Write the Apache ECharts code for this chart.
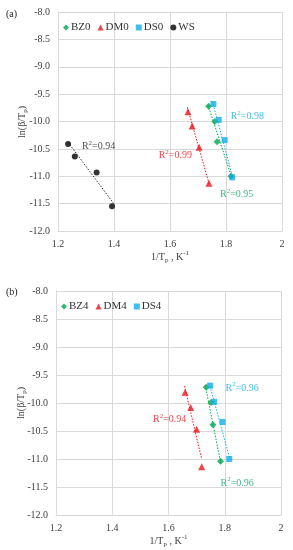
<!DOCTYPE html>
<html><head><meta charset="utf-8">
<script src="https://cdn.jsdelivr.net/npm/echarts@6/dist/echarts.min.js"></script>
<style>html,body{margin:0;padding:0;background:#fff}#c{width:293px;height:550px}</style>
</head><body><div id="c"></div>
<script>
// ---- data (panel a) ----
const BZ0 = [[1.738,-9.72],[1.760,-10.00],[1.768,-10.37],[1.818,-11.00]];
const DM0 = [[1.664,-9.82],[1.679,-10.08],[1.704,-10.47],[1.739,-11.13]];
const DS0 = [[1.755,-9.68],[1.774,-9.97],[1.795,-10.34],[1.822,-11.02]];
const WS  = [[1.236,-10.41],[1.260,-10.64],[1.338,-10.93],[1.393,-11.55]];
const BZ0_fit = [[1.736,-9.70],[1.822,-11.05]];
const DM0_fit = [[1.662,-9.74],[1.741,-11.16]];
const DS0_fit = [[1.752,-9.64],[1.825,-11.05]];
const WS_fit  = [[1.236,-10.38],[1.402,-11.52]];
const R2a = [
  {name:'DS0', value:[1.876,-9.91], text:'0.98'},
  {name:'DM0', value:[1.619,-10.62], text:'0.99'},
  {name:'BZ0', value:[1.838,-11.33], text:'0.95'},
  {name:'WS',  value:[1.345,-10.46], text:'0.94'}
];
// ---- data (panel b) ----
const BZ4 = [[1.734,-9.72],[1.751,-9.99],[1.758,-10.39],[1.785,-11.04]];
const DM4 = [[1.659,-9.81],[1.679,-10.08],[1.700,-10.47],[1.718,-11.14]];
const DS4 = [[1.748,-9.69],[1.762,-9.98],[1.792,-10.34],[1.816,-11.00]];
const BZ4_fit = [[1.731,-9.69],[1.786,-11.08]];
const DM4_fit = [[1.657,-9.70],[1.717,-10.98]];
const DS4_fit = [[1.745,-9.65],[1.818,-11.00]];
const R2b = [
  {name:'DS4', value:[1.862,-9.73], text:'0.96'},
  {name:'DM4', value:[1.604,-10.29], text:'0.94'},
  {name:'BZ4', value:[1.844,-11.43], text:'0.96'}
];
// axis ticks
const xTicks = {min:1.2, max:2.0, interval:0.2};
const yTicks = {min:-12.0, max:-8.0, interval:0.5};

const FONT = 'Liberation Serif';
const COL = {green:'#00a650', red:'#e8141c', blue:'#12aee8', black:'#000000'};
const LBLCOL = {green:'#14a86a', red:'#e8141c', blue:'#12aee8', black:'#222'};
const gridCol = '#d9d9d9';

function xAxis(gi){
  return {type:'value', gridIndex:gi, min:xTicks.min, max:xTicks.max, interval:xTicks.interval,
    axisLine:{show:true, lineStyle:{color:gridCol}}, axisTick:{show:false},
    splitLine:{show:true, lineStyle:{color:gridCol}},
    axisLabel:{color:'#404040', fontFamily:FONT, fontSize:10, margin:8,
      formatter:v=> (Math.abs(v-2)<1e-9 ? '2' : v.toFixed(1))},
    name:'{n|1/T}{s|p}{n| , K}{u|-1}', nameLocation:'middle', nameGap:18,
    nameTextStyle:{rich:{
      n:{fontFamily:FONT,fontSize:10,color:'#404040',lineHeight:14,verticalAlign:'middle'},
      s:{fontFamily:FONT,fontSize:7,color:'#404040',lineHeight:14,verticalAlign:'bottom', padding:[4,0,0,0]},
      u:{fontFamily:FONT,fontSize:7,color:'#404040',lineHeight:14,verticalAlign:'top', padding:[0,0,5,0]}
    }}
  };
}
function yAxis(gi){
  return {type:'value', gridIndex:gi, min:yTicks.min, max:yTicks.max, interval:yTicks.interval,
    axisLine:{show:true, lineStyle:{color:gridCol}}, axisTick:{show:false},
    splitLine:{show:true, lineStyle:{color:gridCol}},
    axisLabel:{color:'#404040', fontFamily:FONT, fontSize:10, margin:8, formatter:v=>v.toFixed(1)}
  };
}
function yName(cx, cy){
  return {type:'text', x:cx, y:cy, rotation:Math.PI/2, style:{
    text:'{n|ln(β/T}{s|p}{n|)}', align:'center', verticalAlign:'middle',
    rich:{ n:{fontFamily:FONT,fontSize:10,fill:'#404040',lineHeight:14},
           s:{fontFamily:FONT,fontSize:7,fill:'#404040',lineHeight:14,verticalAlign:'bottom'} }}};
}
function pts(name, data, color, symbol, size, gi){
  return {name, type:'scatter', xAxisIndex:gi, yAxisIndex:gi, data, symbol, symbolSize:size,
    itemStyle:{color}, z:5};
}
function fit(data, color, gi){
  return {type:'line', xAxisIndex:gi, yAxisIndex:gi, data, showSymbol:false, symbol:'none',
    lineStyle:{color, width:1, type:[1.5,1.5]}, silent:true, z:3};
}
function r2(items, gi){
  const colorOf = n => n.startsWith('BZ')?LBLCOL.green : n.startsWith('DM')?LBLCOL.red : n.startsWith('DS')?LBLCOL.blue : LBLCOL.black;
  return {type:'scatter', xAxisIndex:gi, yAxisIndex:gi, symbolSize:0, silent:true, z:6,
    data: items.map(it=>({value:it.value, label:{show:true, position:'inside',
      formatter:'{t|R}{u|2}{t|='+it.text+'}',
      rich:{ t:{fontFamily:FONT,fontSize:10,color:colorOf(it.name),lineHeight:14},
             u:{fontFamily:FONT,fontSize:7,color:colorOf(it.name),lineHeight:14,verticalAlign:'top'} }}}))
  };
}
const legendText = {fontFamily:FONT, fontSize:11, color:'#333', padding:[0,0,0,-3]};

const chart = echarts.init(document.getElementById('c'), null, {renderer:'canvas'});
chart.setOption({
  animation:false,
  backgroundColor:'#fff',
  grid:[
    {left:58, top:12, width:224, height:219, containLabel:false, outerBoundsMode:'none'},
    {left:56, top:291, width:225, height:224, containLabel:false, outerBoundsMode:'none'}
  ],
  xAxis:[xAxis(0), xAxis(1)],
  yAxis:[yAxis(0), yAxis(1)],
  legend:[
    {data:[{name:'BZ0',icon:'diamond'},{name:'DM0',icon:'triangle'},{name:'DS0',icon:'rect'},{name:'WS',icon:'circle'}],
     left:58, top:17, itemWidth:6, itemHeight:6, itemGap:7, textStyle:legendText},
    {data:[{name:'BZ4',icon:'diamond'},{name:'DM4',icon:'triangle'},{name:'DS4',icon:'rect'}],
     left:56, top:296, itemWidth:6, itemHeight:6, itemGap:7, textStyle:legendText}
  ],
  graphic:[
    {type:'text', left:6, top:9, style:{text:'(a)', font:'10px '+FONT, fill:'#222'}},
    {type:'text', left:6, top:287, style:{text:'(b)', font:'10px '+FONT, fill:'#222'}},
    yName(22, 122),
    yName(21, 403)
  ],
  series:[
    fit(BZ0_fit, COL.green, 0), fit(DM0_fit, COL.red, 0), fit(DS0_fit, COL.blue, 0), fit(WS_fit, '#333', 0),
    pts('BZ0', BZ0, COL.green, 'diamond', 7, 0),
    pts('DM0', DM0, COL.red, 'triangle', 7, 0),
    pts('DS0', DS0, COL.blue, 'rect', 6, 0),
    pts('WS', WS, COL.black, 'circle', 6, 0),
    r2(R2a, 0),
    fit(BZ4_fit, COL.green, 1), fit(DM4_fit, COL.red, 1), fit(DS4_fit, COL.blue, 1),
    pts('BZ4', BZ4, COL.green, 'diamond', 7, 1),
    pts('DM4', DM4, COL.red, 'triangle', 7, 1),
    pts('DS4', DS4, COL.blue, 'rect', 6, 1),
    r2(R2b, 1)
  ]
});
</script>
</body></html>
